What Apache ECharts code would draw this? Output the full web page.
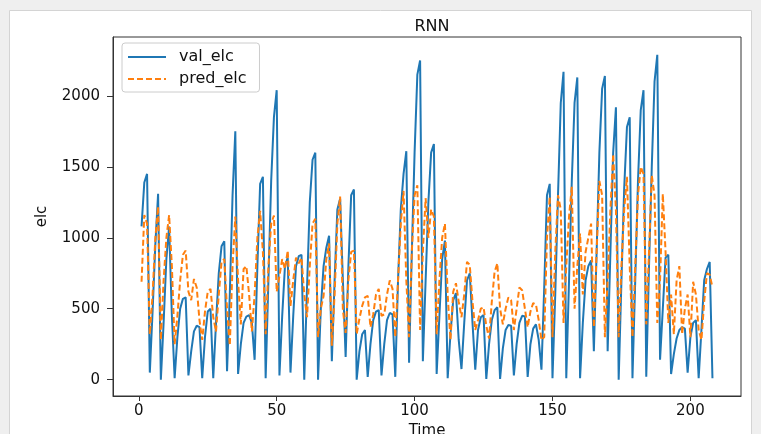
<!DOCTYPE html>
<html>
<head>
<meta charset="utf-8">
<script src="https://cdn.jsdelivr.net/npm/echarts@6/dist/echarts.min.js"></script>
<style>
html,body{margin:0;padding:0;background:#fff;}
#chart{width:761px;height:434px;}
</style>
</head>
<body>
<div id="chart"></div>
<script>
// ---- data ----
const chartTitle = 'RNN';
const seriesNames = ['val_elc', 'pred_elc'];
const xTickValues = [0, 50, 100, 150, 200];
const yTickValues = [0, 500, 1000, 1500, 2000];

const valElc = [
  1080,1390,1450,50,480,950,1310,0,400,850,
  1080,450,10,300,500,570,580,30,200,340,
  380,370,10,300,480,500,10,400,750,940,
  975,60,600,1300,1750,40,250,400,445,455,
  400,140,800,1380,1430,10,700,1400,1850,2040,
  30,450,800,860,50,450,800,870,880,0,
  650,1250,1550,1600,0,500,800,930,1015,130,
  700,1200,1275,700,160,800,1300,1340,0,200,
  320,350,20,250,420,480,490,30,250,420,
  470,460,20,700,1200,1450,1610,120,900,1600,
  2150,2250,130,700,1250,1600,1660,40,450,850,
  980,10,320,560,610,280,75,400,700,750,
  400,70,350,440,455,5,250,420,490,510,
  5,220,350,385,380,30,250,400,450,445,
  20,250,360,390,280,70,650,1300,1380,10,
  600,1300,1950,2170,10,700,1400,1950,2130,10,
  400,700,800,840,200,900,1600,2050,2140,200,
  900,1600,1920,0,700,1350,1780,1850,10,700,
  1400,1900,2040,20,800,1500,2100,2290,140,500,
  860,880,40,180,290,350,370,360,50,300,
  400,420,10,350,700,780,830,10
];

const predElc = [
  690,1160,1100,320,600,1000,1220,280,700,1000,
  1160,800,250,450,700,880,910,620,560,710,
  650,420,280,480,620,640,440,340,600,830,
  850,500,240,800,1150,700,390,780,800,600,
  340,600,1000,1190,900,320,800,1100,1157,620,
  730,850,780,910,520,700,860,820,860,600,
  440,800,1100,1134,300,500,590,850,960,240,
  600,1100,1290,490,330,700,900,910,320,430,
  520,580,590,370,460,600,640,450,460,600,
  700,640,300,700,1100,1330,700,300,900,1300,
  1370,350,900,1280,1000,1200,1150,320,700,1000,
  1100,600,280,620,680,550,440,600,830,810,
  550,350,420,500,510,380,290,550,760,820,
  500,390,500,580,560,350,500,650,630,500,
  370,480,540,530,420,280,300,1000,1290,300,
  900,1300,1200,400,800,1150,1360,500,800,1030,
  600,900,1000,1100,370,900,1400,1300,300,700,
  1200,1590,1200,300,800,1200,1430,800,300,800,
  1300,1500,1450,390,900,1440,1300,400,700,1310,
  900,400,600,320,700,800,320,500,600,300,
  690,600,350,280,550,750,740,650
];

// time index 1..N (sample number)
const timeIdx = valElc.map((_, i) => i + 1);

const FONT = 'DejaVu Sans';
const chart = echarts.init(document.getElementById('chart'), null, {renderer: 'canvas'});

const option = {
  animation: false,
  backgroundColor: '#ffffff',
  textStyle: {fontFamily: FONT},
  graphic: [
    {type: 'rect', z: -20, silent: true, shape: {x: 0, y: 0, width: 761, height: 434}, style: {fill: '#efefef'}},
    {type: 'rect', z: -19, silent: true, shape: {x: 9.5, y: 10.5, width: 742, height: 440}, style: {fill: '#ffffff', stroke: '#d4d4d4', lineWidth: 1}}
  ],
  title: {
    text: chartTitle,
    left: 427,
    textAlign: 'center',
    top: 14,
    textStyle: {fontFamily: FONT, fontSize: 16, fontWeight: 'normal', color: '#111'}
  },
  legend: {
    orient: 'vertical',
    left: 122,
    top: 43,
    padding: [6, 13, 5, 5],
    itemGap: 6,
    itemWidth: 38,
    itemHeight: 14,
    borderColor: '#cccccc',
    borderWidth: 1,
    borderRadius: 3,
    backgroundColor: 'rgba(255,255,255,0.8)',
    itemStyle: {color: 'transparent', borderColor: 'transparent', borderWidth: 0, opacity: 0},
    textStyle: {fontFamily: FONT, fontSize: 16, color: '#111', padding: [0, 0, 0, 8]},
    data: seriesNames
  },
  grid: {
    left: 113,
    top: 37,
    width: 628,
    height: 359,
    show: true,
    borderColor: '#333',
    borderWidth: 1,
    backgroundColor: 'transparent',
    containLabel: false,
    outerBoundsMode: 'none'
  },
  xAxis: {
    type: 'value',
    min: -9.35,
    max: 218.35,
    name: 'Time',
    nameLocation: 'middle',
    nameGap: 24,
    nameTextStyle: {fontFamily: FONT, fontSize: 15, color: '#111'},
    axisLine: {show: true, onZero: false, lineStyle: {color: '#333', width: 1}},
    axisTick: {show: true, length: 5, customValues: xTickValues, lineStyle: {color: '#333'}},
    axisLabel: {customValues: xTickValues, margin: 8, fontFamily: FONT, fontSize: 15, color: '#111', formatter: v => String(v)},
    splitLine: {show: false}
  },
  yAxis: {
    type: 'value',
    min: -115,
    max: 2415,
    name: 'elc',
    nameLocation: 'middle',
    nameGap: 63,
    nameTextStyle: {fontFamily: FONT, fontSize: 15, color: '#111'},
    axisLine: {show: true, onZero: false, lineStyle: {color: '#333', width: 1}},
    axisTick: {show: true, length: 6, customValues: yTickValues, lineStyle: {color: '#333'}},
    axisLabel: {customValues: yTickValues, margin: 13, fontFamily: FONT, fontSize: 15, color: '#111', formatter: v => String(v)},
    splitLine: {show: false}
  },
  series: [
    {
      name: seriesNames[0],
      type: 'line',
      data: timeIdx.map((t, i) => [t, valElc[i]]),
      symbol: 'none',
      lineStyle: {color: '#1f77b4', width: 2},
      itemStyle: {color: '#1f77b4'},
      z: 2
    },
    {
      name: seriesNames[1],
      type: 'line',
      data: timeIdx.map((t, i) => [t, predElc[i]]),
      symbol: 'none',
      lineStyle: {color: '#ff7f0e', width: 2, type: [6, 3]},
      itemStyle: {color: '#ff7f0e'},
      z: 3
    }
  ]
};
chart.setOption(option);
</script>
</body>
</html>
